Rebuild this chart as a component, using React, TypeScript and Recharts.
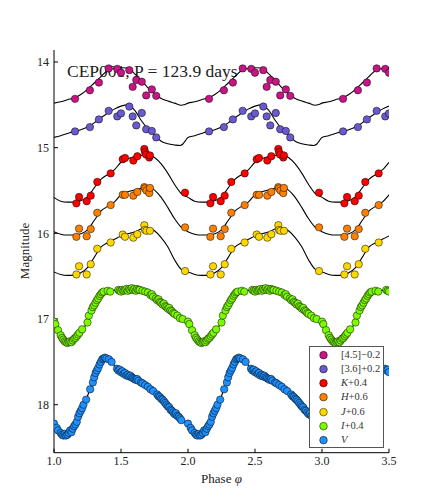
import React from 'react';
import { ComposedChart, Line, Scatter, XAxis, YAxis, Legend } from 'recharts';

// ---------- axes / labels ----------
const X_DOMAIN: [number, number] = [1.0, 3.5];
const X_TICKS = [1.0, 1.5, 2.0, 2.5, 3.0, 3.5];
const Y_DOMAIN: [number, number] = [13.86, 18.56];
const Y_TICKS = [14, 15, 16, 17, 18];
const CYCLE_OFFSETS = [1, 2, 3];
const TITLE_STAR = 'CEP001';
const TITLE_PERIOD = '123.9 days';

// ---------- bands ----------
const bandNames = ['[4.5]', '[3.6]', 'K', 'H', 'J', 'I', 'V'];
const bandShifts = ['\u22120.2', '+0.2', '+0.4', '+0.6', '+0.6', '+0.4', ''];
const bandColors = ['#C71585', '#6A5ACD', '#FF0000', '#FF8000', '#FFD700', '#7CFC00', '#1E90FF'];

// ---------- template curves (phase 0..1) ----------
const c45Phase = [0, 0.05, 0.1, 0.15, 0.2, 0.25, 0.3, 0.35, 0.4, 0.45, 0.5, 0.55, 0.6, 0.65, 0.7, 0.75, 0.8, 0.85, 0.9, 0.95, 0.97];
const c45Mag = [14.48, 14.465, 14.44, 14.42, 14.38, 14.32, 14.245, 14.17, 14.1, 14.075, 14.068, 14.07, 14.135, 14.21, 14.3, 14.37, 14.425, 14.455, 14.48, 14.505, 14.5];

const c36Phase = [0, 0.05, 0.1, 0.15, 0.2, 0.25, 0.3, 0.35, 0.4, 0.45, 0.5, 0.55, 0.6, 0.65, 0.7, 0.75, 0.8, 0.85, 0.9, 0.94, 0.96, 0.98];
const c36Mag = [14.88, 14.86, 14.835, 14.81, 14.79, 14.76, 14.71, 14.65, 14.6, 14.55, 14.515, 14.5, 14.56, 14.68, 14.78, 14.85, 14.925, 14.955, 14.968, 14.975, 14.96, 14.92];

const cKPhase = [0, 0.05, 0.1, 0.15, 0.2, 0.25, 0.3, 0.35, 0.4, 0.45, 0.5, 0.55, 0.6, 0.65, 0.7, 0.75, 0.8, 0.85, 0.9, 0.95];
const cKMag = [15.58, 15.625, 15.635, 15.635, 15.62, 15.575, 15.47, 15.37, 15.315, 15.26, 15.17, 15.13, 15.105, 15.09, 15.08, 15.115, 15.19, 15.3, 15.43, 15.535];

const cHPhase = [0, 0.05, 0.1, 0.15, 0.2, 0.25, 0.3, 0.35, 0.4, 0.45, 0.5, 0.55, 0.6, 0.65, 0.7, 0.75, 0.8, 0.85, 0.9, 0.95];
const cHMag = [15.98, 16.01, 16.02, 16.02, 16.005, 15.96, 15.85, 15.74, 15.685, 15.635, 15.55, 15.515, 15.495, 15.475, 15.46, 15.495, 15.58, 15.7, 15.83, 15.93];

const cJPhase = [0, 0.05, 0.1, 0.15, 0.2, 0.25, 0.3, 0.35, 0.4, 0.45, 0.5, 0.55, 0.6, 0.65, 0.7, 0.75, 0.8, 0.85, 0.9, 0.95];
const cJMag = [16.45, 16.48, 16.49, 16.49, 16.46, 16.4, 16.28, 16.16, 16.11, 16.07, 16.03, 16.005, 15.985, 15.95, 15.935, 15.97, 16.05, 16.16, 16.31, 16.42];

const cIPhase = [0, 0.03, 0.06, 0.09, 0.12, 0.15, 0.18, 0.21, 0.24, 0.27, 0.3, 0.33, 0.36, 0.4, 0.45, 0.5, 0.55, 0.6, 0.65, 0.7, 0.75, 0.8, 0.85, 0.9, 0.95, 0.98];
const cIMag = [17.06, 17.15, 17.22, 17.27, 17.28, 17.25, 17.19, 17.13, 17.06, 16.96, 16.86, 16.77, 16.71, 16.675, 16.665, 16.655, 16.65, 16.645, 16.66, 16.685, 16.73, 16.79, 16.855, 16.92, 16.99, 17.03];

const cVPhase = [0, 0.04, 0.08, 0.12, 0.16, 0.2, 0.24, 0.28, 0.32, 0.35, 0.38, 0.41, 0.45, 0.5, 0.55, 0.6, 0.65, 0.7, 0.75, 0.8, 0.85, 0.9, 0.95];
const cVMag = [18.23, 18.31, 18.355, 18.345, 18.27, 18.1, 17.94, 17.77, 17.6, 17.49, 17.45, 17.47, 17.54, 17.61, 17.66, 17.7, 17.74, 17.785, 17.84, 17.92, 18.0, 18.09, 18.17];

// ---------- observations (phase 0..1) ----------
const p45Phase = [0.157, 0.268, 0.335, 0.408, 0.472, 0.5, 0.562, 0.587, 0.614, 0.655, 0.688, 0.73, 0.763];
const p45Mag = [14.43, 14.33, 14.24, 14.075, 14.08, 14.125, 14.095, 14.29, 14.21, 14.23, 14.39, 14.32, 14.395];

const p36Phase = [0.157, 0.268, 0.335, 0.408, 0.472, 0.5, 0.562, 0.587, 0.614, 0.655, 0.688, 0.73, 0.763];
const p36Mag = [14.81, 14.76, 14.67, 14.57, 14.635, 14.6, 14.52, 14.635, 14.74, 14.595, 14.785, 14.805, 14.88];

const pKPhase = [0.167, 0.187, 0.244, 0.274, 0.323, 0.423, 0.513, 0.53, 0.592, 0.622, 0.674, 0.679, 0.687, 0.711, 0.716, 0.978];
const pKMag = [15.65, 15.575, 15.625, 15.56, 15.4, 15.3, 15.135, 15.12, 15.15, 15.1, 15.015, 15.05, 15.08, 15.115, 15.09, 15.525];

const pHPhase = [0.167, 0.187, 0.244, 0.274, 0.323, 0.423, 0.513, 0.53, 0.592, 0.622, 0.674, 0.679, 0.69, 0.711, 0.716, 0.978];
const pHMag = [16.04, 15.945, 16.034, 15.95, 15.76, 15.67, 15.55, 15.55, 15.56, 15.517, 15.46, 15.475, 15.5, 15.53, 15.47, 15.93];

const pJPhase = [0.167, 0.187, 0.244, 0.274, 0.323, 0.423, 0.513, 0.53, 0.592, 0.622, 0.674, 0.679, 0.69, 0.716, 0.978];
const pJMag = [16.48, 16.384, 16.48, 16.36, 16.18, 16.107, 16.014, 16.04, 16.05, 16.01, 15.905, 15.96, 15.97, 15.97, 16.44];

const pIPhase = [0.0, 0.01, 0.03, 0.05, 0.06, 0.07, 0.08, 0.09, 0.1, 0.11, 0.12, 0.13, 0.14, 0.15, 0.16, 0.17, 0.18, 0.19, 0.21, 0.25, 0.26, 0.28, 0.29, 0.3, 0.31, 0.32, 0.33, 0.34, 0.35, 0.36, 0.37, 0.4, 0.42, 0.48, 0.49, 0.5, 0.51, 0.52, 0.53, 0.54, 0.55, 0.56, 0.57, 0.58, 0.59, 0.6, 0.61, 0.62, 0.63, 0.64, 0.66, 0.68, 0.7, 0.72, 0.73, 0.74, 0.76, 0.77, 0.78, 0.79, 0.8, 0.81, 0.82, 0.83, 0.84, 0.85, 0.86, 0.87, 0.88, 0.89, 0.9, 0.92, 0.94, 0.96];
const pIMag = [17.03, 17.06, 17.13, 17.19, 17.22, 17.24, 17.26, 17.27, 17.28, 17.27, 17.26, 17.27, 17.25, 17.23, 17.22, 17.2, 17.18, 17.16, 17.12, 17.04, 16.96, 16.9, 16.86, 16.84, 16.81, 16.78, 16.76, 16.73, 16.71, 16.69, 16.68, 16.67, 16.68, 16.66, 16.67, 16.68, 16.66, 16.67, 16.66, 16.65, 16.67, 16.65, 16.66, 16.64, 16.66, 16.65, 16.67, 16.65, 16.66, 16.66, 16.67, 16.68, 16.69, 16.72, 16.71, 16.74, 16.76, 16.78, 16.77, 16.8, 16.81, 16.83, 16.82, 16.85, 16.86, 16.88, 16.87, 16.9, 16.91, 16.93, 16.94, 16.96, 16.99, 17.0];

const pVPhase = [0.0, 0.02, 0.03, 0.05, 0.06, 0.07, 0.08, 0.09, 0.1, 0.11, 0.12, 0.13, 0.14, 0.15, 0.16, 0.17, 0.18, 0.19, 0.2, 0.21, 0.22, 0.24, 0.27, 0.29, 0.3, 0.31, 0.32, 0.33, 0.34, 0.35, 0.36, 0.37, 0.38, 0.39, 0.41, 0.43, 0.47, 0.48, 0.49, 0.5, 0.51, 0.52, 0.53, 0.54, 0.55, 0.56, 0.57, 0.58, 0.59, 0.6, 0.61, 0.62, 0.63, 0.65, 0.66, 0.68, 0.7, 0.72, 0.74, 0.77, 0.78, 0.79, 0.8, 0.81, 0.82, 0.83, 0.84, 0.85, 0.86, 0.87, 0.88, 0.89, 0.9, 0.91, 0.92, 0.93, 0.94, 0.95];
const pVMag = [18.22, 18.27, 18.3, 18.33, 18.35, 18.36, 18.34, 18.36, 18.35, 18.33, 18.3, 18.32, 18.28, 18.25, 18.23, 18.2, 18.14, 18.1, 18.07, 18.04, 18.0, 17.94, 17.82, 17.74, 17.68, 17.63, 17.6, 17.57, 17.53, 17.5, 17.47, 17.46, 17.45, 17.46, 17.47, 17.5, 17.58, 17.6, 17.59, 17.62, 17.61, 17.64, 17.63, 17.66, 17.65, 17.67, 17.66, 17.68, 17.69, 17.7, 17.71, 17.7, 17.72, 17.74, 17.75, 17.77, 17.79, 17.82, 17.84, 17.88, 17.9, 17.91, 17.93, 17.94, 17.96, 17.98, 18.0, 18.02, 18.03, 18.06, 18.07, 18.09, 18.11, 18.1, 18.13, 18.14, 18.16, 18.18];

type Pt = { phase: number; mag: number };

// phase-fold: repeat one cycle over the plotted phase range
function fold(phases: number[], mags: number[]): Pt[] {
  const out: Pt[] = [];
  for (const k of CYCLE_OFFSETS) {
    for (let i = 0; i < phases.length; i++) {
      const x = +(phases[i] + k).toFixed(4);
      if (x >= X_DOMAIN[0] - 1e-9 && x <= X_DOMAIN[1] + 1e-9) out.push({ phase: x, mag: mags[i] });
    }
  }
  return out.sort((a, b) => a.phase - b.phase);
}

const curves = [
  fold(c45Phase, c45Mag),
  fold(c36Phase, c36Mag),
  fold(cKPhase, cKMag),
  fold(cHPhase, cHMag),
  fold(cJPhase, cJMag),
  fold(cIPhase, cIMag),
  fold(cVPhase, cVMag),
];
const points = [
  fold(p45Phase, p45Mag),
  fold(p36Phase, p36Mag),
  fold(pKPhase, pKMag),
  fold(pHPhase, pHMag),
  fold(pJPhase, pJMag),
  fold(pIPhase, pIMag),
  fold(pVPhase, pVMag),
];

const SERIF = '"Liberation Serif", "DejaVu Serif", serif';
const TEXT = '#222';

const makeDot = (color: string) => (props: any) => {
  const { cx, cy } = props;
  if (cx == null || cy == null) return <g />;
  return <circle cx={cx} cy={cy} r={3.7} fill={color} stroke="#000" strokeWidth={0.5} />;
};

const LegendBox = () => (
  <div
    style={{
      position: 'relative',
      width: 75,
      height: 102,
      boxSizing: 'border-box',
      border: '1.5px solid #555',
      background: '#fff',
      fontFamily: SERIF,
      fontSize: 10.5,
      color: '#333',
    }}
  >
    {bandNames.map((name, i) => {
      const isLetter = /^[A-Z]$/.test(name);
      return (
        <div key={name} style={{ position: 'absolute', left: 0, top: 0.5 + i * 14.28, height: 14.28, width: '100%' }}>
          <svg width={20} height={14.28} style={{ position: 'absolute', left: 3, top: 0 }}>
            <circle cx={10.5} cy={7.14} r={3.8} fill={bandColors[i]} stroke="#000" strokeWidth={0.5} />
          </svg>
          <span style={{ position: 'absolute', left: 31, top: 0, lineHeight: '14.28px', whiteSpace: 'nowrap' }}>
            <span style={{ fontStyle: isLetter ? 'italic' : 'normal' }}>{name}</span>
            {bandShifts[i]}
          </span>
        </div>
      );
    })}
  </div>
);

export default function App() {
  return (
    <div style={{ position: 'absolute', left: 0, top: 0, width: 432, height: 504, background: '#fff' }}>
      <svg width={432} height={504} style={{ position: 'absolute', left: 0, top: 0 }}>
        <text x={67} y={76.5} fontFamily={SERIF} fontSize={17.5} fill={TEXT}>
          {TITLE_STAR}, P = {TITLE_PERIOD}
        </text>
        <text x={221.5} y={483} textAnchor="middle" fontFamily={SERIF} fontSize={13} fill={TEXT}>
          Phase <tspan fontStyle="italic">{'\u03C6'}</tspan>
        </text>
        <text transform="translate(29,251) rotate(-90)" textAnchor="middle" fontFamily={SERIF} fontSize={13} fill={TEXT}>
          Magnitude
        </text>
      </svg>
      <div style={{ position: 'absolute', left: 0, top: 0 }}>
        <ComposedChart width={432} height={504} margin={{ top: 50, right: 43, bottom: 21.3, left: 14 }}>
          <XAxis
            xAxisId="b"
            dataKey="phase"
            type="number"
            domain={X_DOMAIN}
            ticks={X_TICKS}
            allowDataOverflow
            height={30}
            tickSize={-4}
            tickMargin={8}
            tickFormatter={(v: number) => v.toFixed(1)}
            tick={{ fontFamily: SERIF, fontSize: 12, fill: TEXT }}
            stroke="#000"
          />
          <XAxis
            xAxisId="t"
            orientation="top"
            dataKey="phase"
            type="number"
            domain={X_DOMAIN}
            ticks={X_TICKS}
            allowDataOverflow
            height={0}
            tickSize={-4}
            tickFormatter={() => ''}
            stroke="#000"
          />
          <YAxis
            yAxisId="l"
            dataKey="mag"
            type="number"
            domain={Y_DOMAIN}
            ticks={Y_TICKS}
            reversed
            allowDataOverflow
            width={40}
            tickSize={-4}
            tickMargin={9}
            tick={{ fontFamily: SERIF, fontSize: 12, fill: TEXT }}
            stroke="#000"
          />
          <YAxis
            yAxisId="r"
            orientation="right"
            dataKey="mag"
            type="number"
            domain={Y_DOMAIN}
            ticks={Y_TICKS}
            reversed
            allowDataOverflow
            width={0}
            tickSize={-4}
            tickFormatter={() => ''}
            stroke="#000"
          />
          {curves.map((c, i) => (
            <Line
              key={'c' + i}
              xAxisId="b"
              yAxisId="l"
              data={c}
              dataKey="mag"
              type="monotone"
              stroke="#000"
              strokeWidth={1.1}
              dot={false}
              activeDot={false}
              isAnimationActive={false}
              legendType="none"
            />
          ))}
          {points.map((p, i) => (
            <Scatter
              key={'p' + i}
              xAxisId="b"
              yAxisId="l"
              data={p}
              dataKey="mag"
              name={bandNames[i]}
              fill={bandColors[i]}
              shape={makeDot(bandColors[i])}
              isAnimationActive={false}
            />
          ))}
          <Legend
            layout="vertical"
            align="center"
            verticalAlign="middle"
            wrapperStyle={{ left: 309, top: 346, width: 75, height: 102 }}
            content={() => <LegendBox />}
          />
        </ComposedChart>
      </div>
    </div>
  );
}
